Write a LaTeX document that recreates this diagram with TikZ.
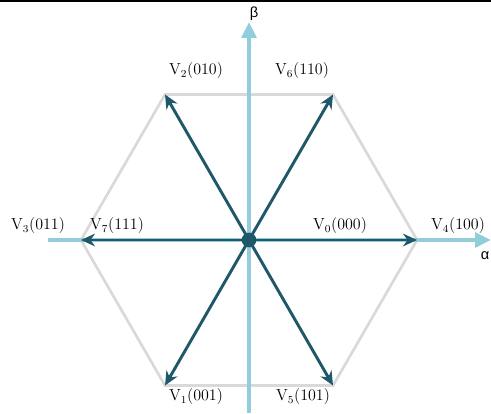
\documentclass[tikz,border=0pt]{standalone}
\usepackage{fontspec}
\usetikzlibrary{arrows.meta}

\newfontfamily\greekfont{Liberation Sans}

\definecolor{vecdark}{HTML}{1F5869}
\definecolor{axislight}{HTML}{92CDDC}
\definecolor{hexgray}{HTML}{D9D9D9}

\tikzset{
  hexside/.style={hexgray, line width=2pt, line join=miter},
  axisline/.style={axislight, line width=3pt, -{Triangle[length=12pt, width=11pt]}},
  vecline/.style={vecdark, line width=2.2pt, -{Stealth[length=10.5pt, width=9.5pt]}},
  veclabel/.style={font=\fontsize{12}{14}\selectfont, inner sep=1pt},
  axislabel/.style={font=\greekfont\fontsize{11}{13}\selectfont, inner sep=0pt}
}

\begin{document}
\begin{tikzpicture}[x=0.75pt, y=-0.75pt]
  \useasboundingbox (0,0) rectangle (491,413);

  % --- Cadre du haut ---
  \coordinate (TL) at (0,0.8);
  \coordinate (TR) at (491,0.8);
  \draw[black, line width=1.2pt] (TL) -- (TR);

  % Coordonnées
  \coordinate (O) at (249,240);
  \coordinate (V0) at (417,240); % angle 0
  \coordinate (V6) at (333,94.5); % angle 60
  \coordinate (V2) at (165,94.5); % angle 120
  \coordinate (V3) at (81,240); % angle 180
  \coordinate (V1) at (165,385.5); % angle 240
  \coordinate (V5) at (333,385.5); % angle 300

  % Hexagone
  \draw[hexside] (V0) -- (V6) -- (V2) -- (V3) -- (V1) -- (V5) -- cycle;

  % Axes alpha / beta
  \coordinate (AxL) at (48,240);
  \coordinate (AxR) at (491,240);
  \coordinate (AxB) at (249,413);
  \coordinate (AxT) at (249,22);
  \draw[axisline] (AxL) -- (AxR); % Axe alpha
  \draw[axisline] (AxB) -- (AxT); % Axe beta
  \node[axislabel] (beta) at (254,14) {β};
  \node[axislabel] (alpha) at (485,256) {α};

  % Vecteurs
  \draw[vecline] (O) -- (V0);
  \draw[vecline] (O) -- (V6);
  \draw[vecline] (O) -- (V2);
  \draw[vecline] (O) -- (V3);
  \draw[vecline] (O) -- (V1);
  \draw[vecline] (O) -- (V5);
  \fill[vecdark] (O) circle (5.5pt);

  % Étiquettes
  \node[veclabel] (L2) at (196,71) {V\textsubscript{2}(010)};
  \node[veclabel] (L6) at (302,71) {V\textsubscript{6}(110)};
  \node[veclabel] (L3) at (38,226) {V\textsubscript{3}(011)};
  \node[veclabel] (L7) at (117,226) {V\textsubscript{7}(111)};
  \node[veclabel] (L0) at (340,226) {V\textsubscript{0}(000)};
  \node[veclabel] (L4) at (458,226) {V\textsubscript{4}(100)};
  \node[veclabel] (L1) at (196,397) {V\textsubscript{1}(001)};
  \node[veclabel] (L5) at (303,397) {V\textsubscript{5}(101)};
\end{tikzpicture}
\end{document}
